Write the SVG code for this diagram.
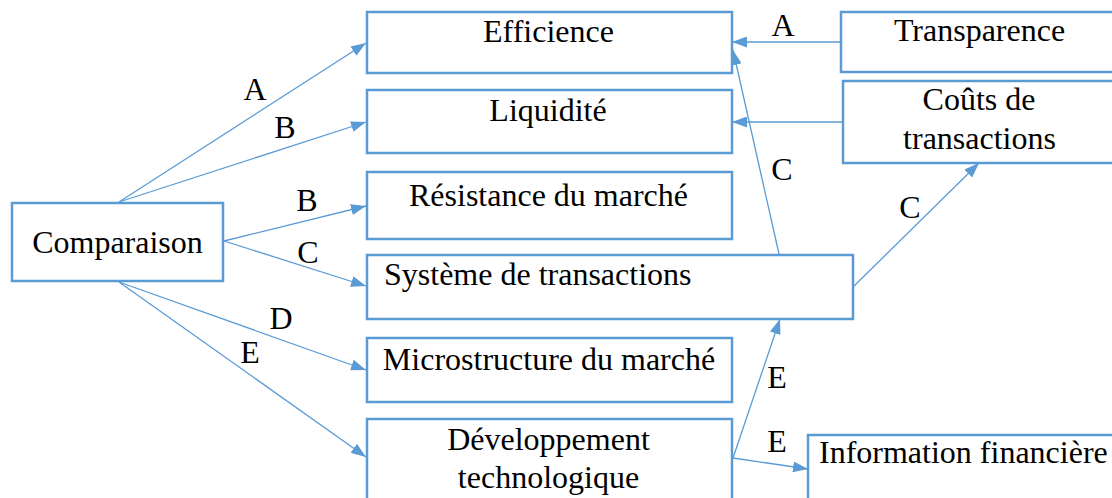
<svg xmlns="http://www.w3.org/2000/svg" width="1112" height="498" viewBox="0 0 1112 498">
<style>
.box{fill:#fff;stroke:#5B9BD5;stroke-width:2.5}
.t{font-family:'Liberation Serif','Times New Roman',serif;font-size:32px;fill:#000}
.m{text-anchor:middle}
.c{fill:none;stroke:#5B9BD5;stroke-width:1.3;marker-end:url(#ah)}
</style>
<defs>
<marker id="ah" markerUnits="userSpaceOnUse" markerWidth="15" markerHeight="11" refX="15" refY="5.5" orient="auto">
<path d="M0,0 L15,5.5 L0,11 z" fill="#5B9BD5"/>
</marker>
</defs>
<rect width="1112" height="498" fill="#fff"/>
<g id="n-efficience"><rect class="box" x="367" y="12" width="365" height="61"/><text class="t m" x="548.5" y="41.5">Efficience</text></g>
<g id="n-liquidite"><rect class="box" x="367" y="90" width="365" height="63"/><text class="t m" x="548" y="121">Liquidité</text></g>
<g id="n-resistance"><rect class="box" x="367" y="172" width="365" height="67"/><text class="t m" x="548.5" y="205.5">Résistance du marché</text></g>
<g id="n-systeme"><rect class="box" x="367" y="255" width="486" height="64"/><text class="t" x="384" y="285">Système de transactions</text></g>
<g id="n-microstructure"><rect class="box" x="367" y="338" width="365" height="64"/><text class="t m" x="549" y="370">Microstructure du marché</text></g>
<g id="n-developpement"><rect class="box" x="367" y="419" width="365" height="90"/><text class="t m" x="548.5" y="450">Développement</text><text class="t m" x="548.5" y="488">technologique</text></g>
<g id="n-comparaison"><rect class="box" x="12" y="203" width="211" height="78"/><text class="t m" x="117.5" y="253">Comparaison</text></g>
<g id="n-transparence"><rect class="box" x="841" y="12" width="290" height="60"/><text class="t m" x="979.5" y="41">Transparence</text></g>
<g id="n-couts"><rect class="box" x="843" y="81" width="290" height="82"/><text class="t m" x="979" y="110">Coûts de</text><text class="t m" x="979.5" y="149">transactions</text></g>
<g id="n-information"><rect class="box" x="808" y="435" width="320" height="80"/><text class="t" x="819" y="463">Information financière</text></g>
<g id="connectors">
<path class="c" d="M119,202 L366,43"/>
<path class="c" d="M119,202 L366,122"/>
<path class="c" d="M224,241 L366,206"/>
<path class="c" d="M224,241 L366,286"/>
<path class="c" d="M119,282 L366,370"/>
<path class="c" d="M119,282 L366,457"/>
<path class="c" d="M841,42 L732,42"/>
<path class="c" d="M843,122 L732,122"/>
<path class="c" d="M779,254 L733,50"/>
<path class="c" d="M853,287 L979,163"/>
<path class="c" d="M733,458 L780,319"/>
<path class="c" d="M733,458 L808,469"/>
</g>
<g id="labels">
<text class="t m" x="255" y="100">A</text>
<text class="t m" x="285" y="138">B</text>
<text class="t m" x="307" y="211">B</text>
<text class="t m" x="308" y="263">C</text>
<text class="t m" x="281" y="329">D</text>
<text class="t m" x="250" y="363">E</text>
<text class="t m" x="783" y="36">A</text>
<text class="t m" x="782" y="180">C</text>
<text class="t m" x="910" y="218">C</text>
<text class="t m" x="777" y="388">E</text>
<text class="t m" x="777" y="452">E</text>
</g>
</svg>
